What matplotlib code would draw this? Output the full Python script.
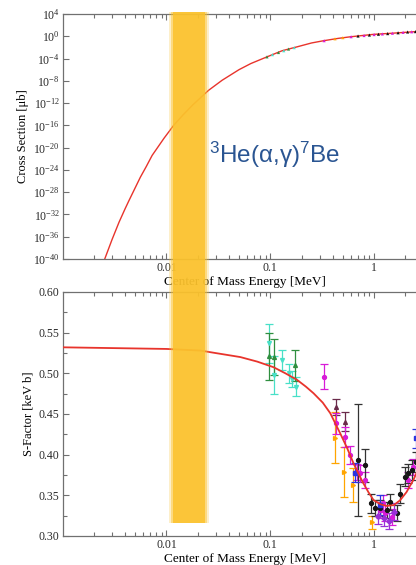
import matplotlib
matplotlib.use("Agg")
import matplotlib.pyplot as plt
import numpy as np
from matplotlib.patches import Rectangle
from matplotlib.ticker import FixedLocator, NullLocator, FuncFormatter, MultipleLocator, FormatStrFormatter
from matplotlib.transforms import blended_transform_factory

plt.rcParams['font.family'] = ['Liberation Serif', 'DejaVu Serif']
plt.rcParams['mathtext.fontset'] = 'stix'

# ---------------- data
# cross section curve: energy [MeV], log10(sigma [ub])
xs_E = [0.00255, 0.003, 0.0035, 0.004, 0.00434, 0.00562, 0.0064, 0.00729, 0.0095, 0.01175,
        0.0145, 0.018, 0.0255, 0.0344, 0.05, 0.065, 0.0929, 0.13, 0.181, 0.25, 0.326,
        0.45, 0.587, 0.98, 1.5, 2.39, 3.3]
xs_log = [-40.0, -36.5, -33.4, -31.0, -29.6, -25.3, -23.4, -21.4, -18.3, -16.0,
          -14.1, -12.3, -9.7, -7.9, -6.0, -4.9, -3.7, -2.6, -1.9, -1.2, -0.8,
          -0.38, -0.1, 0.34, 0.55, 0.81, 0.9]

# measured cross sections shown in the upper panel
top_E = [0.093, 0.105, 0.12, 0.135, 0.15, 0.17, 0.33, 0.42, 0.5,
         0.6, 0.7, 0.8, 0.9, 1.0, 1.1, 1.2, 1.35, 1.5, 1.7, 1.9, 2.1, 2.3, 2.5]
top_sig = [2e-4, 5e-4, 1.2e-3, 2.5e-3, 5e-3, 9e-3, 0.16, 0.35, 0.56,
           0.83, 1.1, 1.35, 1.65, 2.0, 2.3, 2.6, 3.0, 3.5, 4.2, 5.0, 5.8, 6.3, 6.8]
top_clr = ['#2f8f3f', '#48e0c8', '#2f8f3f', '#48e0c8', '#2f8f3f', '#48e0c8', '#d81bd8', '#ffa500', '#ffa500',
           '#d81bd8', '#111111', '#d81bd8', '#111111', '#d81bd8', '#111111', '#d81bd8', '#111111',
           '#d81bd8', '#111111', '#d81bd8', '#111111', '#d81bd8', '#111111']

# S-factor curve
sf_E = [0.001, 0.01, 0.0212, 0.0515, 0.075, 0.1077, 0.14, 0.181, 0.22, 0.261, 0.32, 0.378,
        0.471, 0.55, 0.633, 0.71, 0.788, 0.88, 0.985, 1.15, 1.32, 1.55, 1.78, 2.05, 2.39, 3.3]
sf_S = [0.532, 0.530, 0.528, 0.520, 0.5144, 0.5075, 0.500, 0.492, 0.4837, 0.4755, 0.464, 0.451,
        0.4263, 0.408, 0.3894, 0.376, 0.3648, 0.354, 0.3443, 0.339, 0.337, 0.338, 0.344, 0.354, 0.369, 0.41]

# S-factor data sets: energy, S, error
green_E = [0.0964, 0.1077, 0.174]
green_S = [0.521, 0.520, 0.510]
green_err = [0.029, 0.022, 0.019]

cyan_E = [0.0964, 0.108, 0.129, 0.152, 0.162, 0.176]
cyan_S = [0.537, 0.498, 0.5165, 0.500, 0.493, 0.4836]
cyan_err = [0.024, 0.023, 0.012, 0.012, 0.010, 0.012]

mag_E = [0.332, 0.431, 0.526, 0.588, 0.684, 0.73, 0.82, 1.13, 1.21, 1.27, 1.48, 2.14, 2.39]
mag_S = [0.496, 0.4386, 0.422, 0.3996, 0.379, 0.377, 0.369, 0.332, 0.340, 0.328, 0.323, 0.369, 0.385]
mag_err = [0.015, 0.013, 0.012, 0.011, 0.010, 0.010, 0.010, 0.010, 0.010, 0.010, 0.010, 0.010, 0.010]

org_E = [0.422, 0.515, 0.621, 0.958]
org_S = [0.421, 0.379, 0.363, 0.317]
org_err = [0.031, 0.031, 0.021, 0.008]

blk_E = [0.706, 0.82, 0.93, 1.02, 1.13, 1.32, 1.42, 1.66, 1.78, 1.97, 2.14, 2.32, 2.51]
blk_S = [0.3935, 0.387, 0.340, 0.334, 0.334, 0.332, 0.342, 0.328, 0.352, 0.373, 0.377, 0.381, 0.391]
blk_err = [0.069, 0.020, 0.012, 0.010, 0.010, 0.010, 0.010, 0.010, 0.012, 0.012, 0.012, 0.012, 0.012]

tri_E = [0.431, 0.526]
tri_S = [0.459, 0.4406]
tri_err = [0.010, 0.012]

blu_E = [0.658, 1.15, 2.51]
blu_S = [0.378, 0.338, 0.420]
blu_err = [0.012, 0.012, 0.012]

pur_E = [1.10, 1.25, 1.38, 1.55]
pur_S = [0.325, 0.322, 0.318, 0.330]
pur_err = [0.010, 0.010, 0.010, 0.010]

# Gamow window [MeV]
gamow_lo, gamow_hi = 0.0115, 0.0237

x_lim = (0.001, 3.3)
W, H = 416, 565

fig = plt.figure(figsize=(W / 100, H / 100), dpi=100)
fig.patch.set_facecolor('white')
L, R = 62.5, 428
ax1 = fig.add_axes([L / W, 1 - 259 / H, (R - L) / W, 245 / H])
ax2 = fig.add_axes([L / W, 1 - 536 / H, (R - L) / W, 244 / H])

red = '#e8342c'
spine_c = '#707070'

# ---------- upper panel
ax1.plot(xs_E, np.power(10.0, xs_log), color=red, lw=1.0, zorder=2)
ax1.scatter(top_E, top_sig, c=top_clr, s=5, marker='^', zorder=3, linewidths=0)
ax1.set_xscale('log')
ax1.set_yscale('log')
ax1.set_xlim(*x_lim)
ax1.set_ylim(1e-40, 1e4)
ax1.yaxis.set_major_locator(FixedLocator([10.0 ** k for k in range(-40, 5, 4)]))
ax1.yaxis.set_minor_locator(NullLocator())
ax1.yaxis.set_major_formatter(FuncFormatter(lambda v, p: r'$\mathregular{10^{%d}}$' % round(np.log10(v))))
ax1.set_ylabel('Cross Section [μb]', fontsize=9, labelpad=3)

# ---------- lower panel
ax2.plot(sf_E, sf_S, color=red, lw=1.3, zorder=4)
ebar = dict(capsize=3, elinewidth=0.9, capthick=0.9, ms=2.8, zorder=3)
ax2.errorbar(cyan_E, cyan_S, yerr=cyan_err, fmt='v', color='#48e0c8', **ebar)
ax2.errorbar(green_E, green_S, yerr=green_err, fmt='^', color='#2f8f3f', **ebar)
ax2.errorbar(org_E, org_S, yerr=org_err, fmt='>', color='#ffa500', **ebar)
ax2.errorbar(tri_E, tri_S, yerr=tri_err, fmt='^', color='#6a2a4a', **ebar)
ax2.errorbar(mag_E, mag_S, yerr=mag_err, fmt='o', color='#d81bd8', **ebar)
ax2.errorbar(blk_E, blk_S, yerr=blk_err, fmt='o', color='#151515', ecolor='#333333', **ebar)
ax2.errorbar(blu_E, blu_S, yerr=blu_err, fmt='s', color='#2a35e0', **ebar)
ax2.errorbar(pur_E, pur_S, yerr=pur_err, fmt='D', color='#9a30d8', **ebar)
ax2.set_xscale('log')
ax2.set_xlim(*x_lim)
ax2.set_ylim(0.30, 0.60)
ax2.yaxis.set_major_locator(MultipleLocator(0.05))
ax2.yaxis.set_minor_locator(MultipleLocator(0.025))
ax2.yaxis.set_major_formatter(FormatStrFormatter('%.2f'))
ax2.set_ylabel('S-Factor [keV b]', fontsize=9, labelpad=3)

minor_x = [m * 10.0 ** k for k in range(-3, 1) for m in range(2, 10)]
x_names = {0.01: '0.01', 0.1: '0.1', 1: '1'}
for ax in (ax1, ax2):
    ax.xaxis.set_major_locator(FixedLocator([0.01, 0.1, 1]))
    ax.xaxis.set_major_formatter(FuncFormatter(lambda v, p: x_names.get(round(v, 3), '')))
    ax.xaxis.set_minor_locator(FixedLocator(minor_x))
    ax.xaxis.set_minor_formatter(FuncFormatter(lambda v, p: ''))
    ax.set_xlabel('Center of Mass Energy [MeV]', fontsize=9.5, labelpad=1.5)
    ax.tick_params(which='both', direction='in', top=True, right=True, colors=spine_c,
                   labelcolor='#2a2a2a', labelsize=8.5, pad=2, width=0.8)
    ax.tick_params(which='major', length=4.5)
    ax.tick_params(which='minor', length=2.8)
    for s in ax.spines.values():
        s.set_color(spine_c)
        s.set_linewidth(0.9)

# ---------- Gamow window band across both panels
trans = blended_transform_factory(ax2.transData, fig.transFigure)
y0, y1 = 1 - 523 / H, 1 - 12 / H
for f, a in [(0.93, 0.25), (0.965, 0.45), (1.0, 0.85)]:
    lo, hi = gamow_lo * f, gamow_hi / f
    band = Rectangle((lo, y0), hi - lo, y1 - y0, transform=trans,
                     facecolor='#fbc22c', edgecolor='none', alpha=a, zorder=10)
    fig.add_artist(band)

fig.text(209 / W, 1 - 155 / H, r'$\mathregular{^{3}He(\alpha{,}\gamma)^{7}Be}$',
         fontsize=17.5, color='#2a5592', va='center', ha='left',
         family=['Liberation Sans', 'DejaVu Sans'])

fig.savefig('out.png', dpi=100)
